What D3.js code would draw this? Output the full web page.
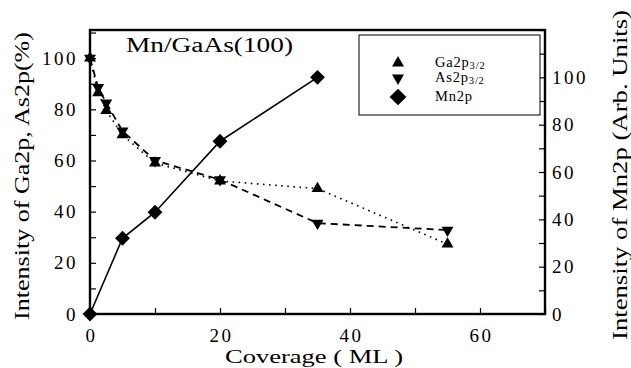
<!DOCTYPE html>
<html><head><meta charset="utf-8">
<script src="https://cdn.jsdelivr.net/npm/d3@7"></script>
<style>body{margin:0;background:#fff}svg{display:block}</style>
</head><body><svg id="c" width="631" height="368"></svg>
<script>
const coverage = [0, 1.25, 2.5, 5, 10, 20, 35, 55];
const ga2p = [100, 86.5, 79.5, 70, 59, 52, 49, 27.3];
const as2p = [100, 88.5, 82.5, 71.5, 60, 52.5, 35.5, 32.8];
const mnCoverage = [0, 5, 10, 20, 35];
const mn2p = [0, 32, 43, 73, 100];
const xTicks = [0, 20, 40, 60];
const leftTicks = [0, 20, 40, 60, 80, 100];
const rightTicks = [0, 20, 40, 60, 80, 100];
const legendLabels = [["Ga2p", "3/2"], ["As2p", "3/2"], ["Mn2p", ""]];
const title = "Mn/GaAs(100)";

const FONT = "'Liberation Serif', serif";
const svg = d3.select("#c");
const L = 90, R = 545, T = 30, B = 314;
const x = d3.scaleLinear().domain([0, 70]).range([L, R]);
const yL = d3.scaleLinear().domain([0, 111]).range([B, T]);
const yR = d3.scaleLinear().domain([0, 120]).range([B, T]);

const tl = 6;
const bottom = svg.append("g").attr("transform", `translate(0,${B})`)
  .call(d3.axisBottom(x).tickValues(d3.range(0, 71, 10)).tickSize(-tl).tickPadding(14).tickFormat(d => xTicks.includes(d) ? d : ""));
const left = svg.append("g").attr("transform", `translate(${L},0)`)
  .call(d3.axisLeft(yL).tickValues(d3.range(0, 111, 10)).tickSize(-tl).tickPadding(12).tickFormat(d => leftTicks.includes(d) ? d : ""));
const right = svg.append("g").attr("transform", `translate(${R},0)`)
  .call(d3.axisRight(yR).tickValues(d3.range(0, 121, 10)).tickSize(-tl).tickPadding(7).tickFormat(d => rightTicks.includes(d) ? d : ""));
[bottom, left, right].forEach(g => {
  g.attr("font-family", null).attr("font-size", null);
  g.select(".domain").remove();
  g.selectAll(".tick line").attr("stroke", "#000").attr("stroke-width", 1.2);
  g.selectAll(".tick text").style("font-family", FONT).style("font-size", "19px")
    .style("letter-spacing", "2.5px").attr("fill", "#000");
});
right.selectAll(".tick text").attr("x", 7);
bottom.selectAll(".tick text").attr("dy", "0.71em").attr("y", 15).attr("dx", "1px");

svg.append("rect").attr("x", L).attr("y", T).attr("width", R - L).attr("height", B - T)
  .attr("fill", "none").attr("stroke", "#000").attr("stroke-width", 2.4);

const gaData = coverage.map((c, i) => [c, ga2p[i]]);
const asData = coverage.map((c, i) => [c, as2p[i]]);
const mnData = mnCoverage.map((c, i) => [c, mn2p[i]]);
svg.append("path").datum(gaData).attr("fill", "none").attr("stroke", "#000").attr("stroke-width", 1.6)
  .attr("stroke-dasharray", "1.6,4.5").attr("d", d3.line().x(d => x(d[0])).y(d => yL(d[1])));
svg.append("path").datum(asData).attr("fill", "none").attr("stroke", "#000").attr("stroke-width", 1.8)
  .attr("stroke-dasharray", "7,5").attr("d", d3.line().x(d => x(d[0])).y(d => yL(d[1])));
svg.append("path").datum(mnData).attr("fill", "none").attr("stroke", "#000").attr("stroke-width", 1.6)
  .attr("d", d3.line().x(d => x(d[0])).y(d => yR(d[1])));

const tri = d3.symbol().type(d3.symbolTriangle).size(62);
const dia = d3.symbol().type(d3.symbolSquare).size(110);
svg.append("g").selectAll("path").data(gaData).join("path").attr("d", tri)
  .attr("transform", d => `translate(${x(d[0])},${yL(d[1])})`).attr("fill", "#000");
svg.append("g").selectAll("path").data(asData).join("path").attr("d", tri)
  .attr("transform", d => `translate(${x(d[0])},${yL(d[1])}) rotate(180)`).attr("fill", "#000");
svg.append("g").selectAll("path").data(mnData).join("path").attr("d", dia)
  .attr("transform", d => `translate(${x(d[0])},${yR(d[1])}) rotate(45)`).attr("fill", "#000");

function txt(sel) { return sel.style("font-family", FONT).attr("fill", "#000"); }

txt(svg.append("text")).attr("x", 126).attr("y", 52).style("font-size", "20px")
  .attr("textLength", 167).attr("lengthAdjust", "spacingAndGlyphs").text(title);

svg.append("rect").attr("x", 359).attr("y", 35).attr("width", 181).attr("height", 80)
  .attr("fill", "#fff").attr("stroke", "#000").attr("stroke-width", 1);
const ly = [63, 78, 97];
const lsyms = [
  [d3.symbol().type(d3.symbolTriangle).size(62), 0],
  [d3.symbol().type(d3.symbolTriangle).size(62), 180],
  [d3.symbol().type(d3.symbolSquare).size(140), 45]];
lsyms.forEach((s, i) => {
  svg.append("path").attr("d", s[0]).attr("fill", "#000")
    .attr("transform", `translate(398,${ly[i]}) rotate(${s[1]})`);
  const t = txt(svg.append("text")).attr("x", 435).attr("y", ly[i] + 4).style("font-size", "14.5px")
    .style("letter-spacing", "0.8px");
  t.append("tspan").text(legendLabels[i][0]);
  if (legendLabels[i][1]) t.append("tspan").attr("dy", 2).style("font-size", "10.5px").text(legendLabels[i][1]);
});

txt(svg.append("text")).attr("x", 0).attr("y", 0).style("font-size", "20px")
  .attr("transform", "translate(29,320) rotate(-90)").attr("textLength", 288)
  .attr("lengthAdjust", "spacingAndGlyphs").text("Intensity of Ga2p, As2p(%)");
txt(svg.append("text")).attr("x", 0).attr("y", 0).style("font-size", "20px")
  .attr("transform", "translate(627,340) rotate(-90)").attr("textLength", 330)
  .attr("lengthAdjust", "spacingAndGlyphs").text("Intensity of Mn2p (Arb. Units)");
txt(svg.append("text")).attr("x", 225).attr("y", 363).style("font-size", "19px")
  .attr("textLength", 178).attr("lengthAdjust", "spacingAndGlyphs").text("Coverage ( ML )");
</script></body></html>
